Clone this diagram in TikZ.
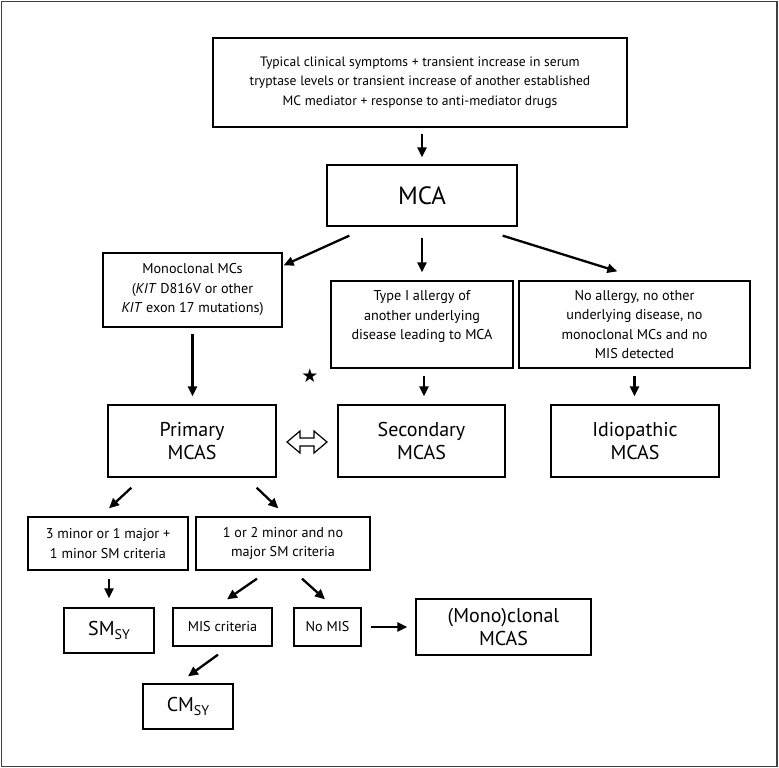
\documentclass[tikz,border=0pt]{standalone}
\usepackage{fontspec}
\setmainfont{PT Sans}
\newfontfamily\symfont{DejaVu Sans}
\usetikzlibrary{arrows.meta,calc}
\newcommand\subsy[1]{\raisebox{-0.2em}{\fontsize{14}{14}\selectfont #1}}
\begin{document}
\begin{tikzpicture}[x=1pt,y=-1pt,
  box/.style={draw, line width=1.3pt, inner sep=0pt, align=center, font=\fontsize{14.2}{19.5}\selectfont},
  big/.style={font=\fontsize{20}{23.5}\selectfont},
  txt/.style={inner sep=0pt, align=center, font=\fontsize{14.2}{19.5}\selectfont},
  arr/.style={line width=2.3pt, -{Triangle[length=10pt,width=9pt]}}]
\useasboundingbox (0,0) rectangle (779,768);
\draw[line width=1.5pt, black!75] (1.5,1.5) rectangle (777,766.5);

\node[box, font=\fontsize{13.6}{19.5}\selectfont, minimum width=414pt, minimum height=89pt] (top) at (420,82.5)
  {Typical clinical symptoms + transient increase in serum\\tryptase levels or transient increase of another established\\MC mediator + response to anti-mediator drugs};
\node[box, font=\fontsize{25}{28}\selectfont, minimum width=190pt, minimum height=61pt] (mca) at (422,195.5) {MCA};
\node[box, minimum width=179pt, minimum height=74pt] (mono) at (192.5,290)
  {Monoclonal MCs\\(\textit{KIT} D816V or other\\\textit{KIT} exon 17 mutations)};
\node[box, minimum width=182pt, minimum height=87pt] (typeI) at (422,324.5) {};
\node[txt] (typeItext) at ([yshift=8pt]typeI.center)
  {Type I allergy of\\another underlying\\disease leading to MCA};
\node[box, minimum width=231pt, minimum height=87pt] (noall) at (634.5,324.5)
  {No allergy, no other\\underlying disease, no\\monoclonal MCs and no\\MIS detected};
\node[box, big, minimum width=168pt, minimum height=72pt] (primary) at (192,441) {Primary\\MCAS};
\node[box, big, minimum width=167pt, minimum height=72pt] (secondary) at (421.5,441) {Secondary\\MCAS};
\node[box, big, minimum width=168pt, minimum height=72pt] (idio) at (635,441) {Idiopathic\\MCAS};
\node[box, minimum width=160pt, minimum height=53pt] (three) at (108,543.5) {3 minor or 1 major +\\1 minor SM criteria};
\node[box, minimum width=174pt, minimum height=53pt] (onetwo) at (283,543.5) {1 or 2 minor and no\\major SM criteria};
\node[box, big, minimum width=90pt, minimum height=45pt] (sm) at (109,630.5) {SM\subsy{SY}};
\node[box, minimum width=99pt, minimum height=38pt] (mis) at (222.5,627) {MIS criteria};
\node[box, minimum width=67pt, minimum height=38pt] (nomis) at (327.5,627) {No MIS};
\node[box, big, minimum width=175pt, minimum height=56pt] (monoc) at (503.5,627) {(Mono)clonal\\MCAS};
\node[box, big, minimum width=90pt, minimum height=45pt] (cm) at (188,706.5) {CM\subsy{SY}};

\node[font=\symfont\fontsize{19}{19}\selectfont, inner sep=0pt] (star) at (310,376) {★};

% arrows
\draw[arr, shorten <=6pt, shorten >=7pt] (top.south -| mca.north) -- (mca.north);
\draw[arr] ([shift={(23,9)}]mca.south west) -- ([shift={(1,13)}]mono.north east);
\draw[arr, shorten <=11pt, shorten >=8pt] (mca.south) -- (mca.south |- typeI.north);
\draw[arr] ([shift={(-15,9)}]mca.south east) -- ([shift={(99,-9)}]noall.north west);
\draw[arr, shorten <=6pt, shorten >=8pt] (mono.south) -- (mono.south |- primary.north);
\draw[arr, shorten <=7pt, shorten >=8pt] ([xshift=2pt]typeI.south) -- ([xshift=2pt]typeI.south |- secondary.north);
\draw[arr, shorten <=7pt, shorten >=8pt] (noall.south) -- (noall.south |- idio.north);
\draw[arr] ([shift={(24,10)}]primary.south west) -- ([shift={(1,-8)}]three.north);
\draw[arr] ([shift={(-20,10)}]primary.south east) -- ([shift={(83,-8)}]onetwo.north west);
\draw[arr, shorten <=8pt, shorten >=9pt] ([xshift=1pt]three.south) -- ([xshift=1pt]three.south |- sm.north);
\draw[arr] ([shift={(-26,8)}]onetwo.south) -- ([shift={(4.5,-8)}]mis.north);
\draw[arr] ([shift={(19,8)}]onetwo.south) -- ([shift={(-2.5,-8)}]nomis.north);
\draw[arr, shorten <=9pt, shorten >=8pt] (nomis.east) -- (nomis.east -| monoc.west);
\draw[arr] ([shift={(-4.5,8)}]mis.south) -- ([shift={(0,-7)}]cm.north);

% hollow double arrow between primary and secondary
\draw[line width=1.2pt, fill=white]
  (287,442) -- (300,431) -- (300,438) -- (314,438) -- (314,431) -- (327,442)
  -- (314,453) -- (314,446) -- (300,446) -- (300,453) -- cycle;
\end{tikzpicture}
\end{document}
